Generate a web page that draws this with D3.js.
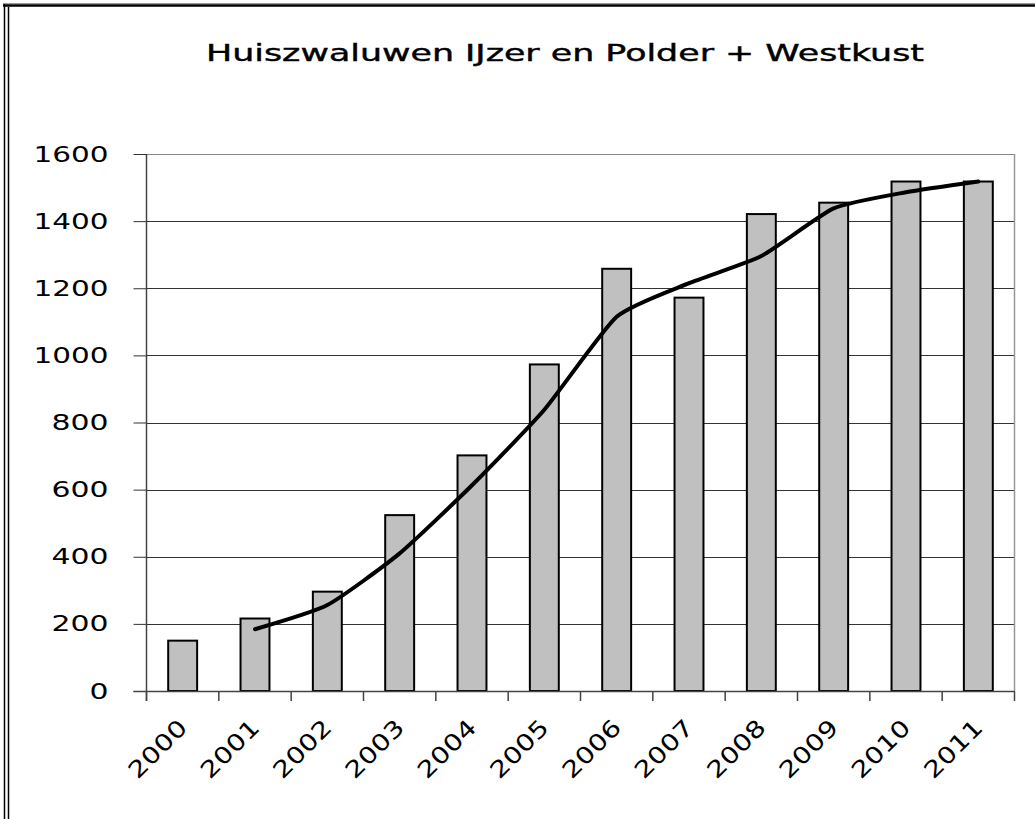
<!DOCTYPE html>
<html>
<head>
<meta charset="utf-8">
<script src="https://cdn.jsdelivr.net/npm/d3@7"></script>
<style>
  html, body { margin: 0; padding: 0; background: #fff; }
  svg { display: block; }
  text { font-family: "Comic Sans MS", "DejaVu Sans", sans-serif; fill: #000; }
</style>
</head>
<body>
<svg id="chart" width="1035" height="819"></svg>
<script>
const title = "Huiszwaluwen IJzer en Polder +  Westkust";
const years = ["2000","2001","2002","2003","2004","2005","2006","2007","2008","2009","2010","2011"];
const counts = [150, 216, 296, 524, 702, 973, 1258, 1172, 1421, 1455, 1518, 1518];
// trend line (2-year moving average as drawn in the reference), starts at 2001
const trendYears = ["2001","2002","2003","2004","2005","2006","2007","2008","2009","2010","2011"];
const trendValues = [184, 256, 410, 613, 838, 1115, 1215, 1296, 1438, 1486, 1518];
const yTicks = [0, 200, 400, 600, 800, 1000, 1200, 1400, 1600];

const svg = d3.select("#chart");
const mLeft = 146.5, mRight = 1014.5, mTop = 154, mBottom = 691;

// outer frame
svg.append("line").attr("x1", 3).attr("x2", 1035).attr("y1", 5.5).attr("y2", 5.5)
  .attr("stroke", "#000").attr("stroke-width", 2.5);
svg.append("line").attr("x1", 3).attr("x2", 1035).attr("y1", 3.5).attr("y2", 3.5)
  .attr("stroke", "#999").attr("stroke-width", 1);
svg.append("line").attr("x1", 4.5).attr("x2", 4.5).attr("y1", 4).attr("y2", 819)
  .attr("stroke", "#000").attr("stroke-width", 1.5);
svg.append("line").attr("x1", 8.5).attr("x2", 8.5).attr("y1", 7).attr("y2", 819)
  .attr("stroke", "#000").attr("stroke-width", 1.5);

// title
svg.append("text").attr("x", 565).attr("y", 61).attr("text-anchor", "middle")
  .attr("font-size", 23).attr("textLength", 718).attr("lengthAdjust", "spacingAndGlyphs")
  .attr("stroke", "#000").attr("stroke-width", 0.4)
  .text(title);

const x = d3.scaleBand().domain(years).range([mLeft, mRight]).paddingInner(0.6).paddingOuter(0.3);
const xBand = d3.scaleBand().domain(years).range([mLeft, mRight]);
const y = d3.scaleLinear().domain([0, 1600]).range([mBottom, mTop]);

// gridlines
svg.append("g").selectAll("line").data(yTicks.filter(d => d > 0)).join("line")
  .attr("x1", mLeft).attr("x2", mRight)
  .attr("y1", d => Math.round(y(d)) + 0.5).attr("y2", d => Math.round(y(d)) + 0.5)
  .attr("stroke", d => d === 1600 ? "#888" : "#333").attr("stroke-width", 1);

// right border of plot area
svg.append("line").attr("x1", mRight).attr("x2", mRight).attr("y1", mTop).attr("y2", mBottom)
  .attr("stroke", "#999").attr("stroke-width", 1.5);

// bars
svg.append("g").selectAll("rect").data(counts).join("rect")
  .attr("x", (d, i) => x(years[i]))
  .attr("width", x.bandwidth())
  .attr("y", d => y(d))
  .attr("height", d => mBottom - y(d))
  .attr("fill", "#c0c0c0").attr("stroke", "#000").attr("stroke-width", 2);

// y axis
const yAxis = d3.axisLeft(y).tickValues(yTicks).tickSize(13).tickPadding(25).tickFormat(d3.format("d"));
const gy = svg.append("g").attr("transform", `translate(${mLeft},0)`).call(yAxis);
gy.select(".domain").attr("stroke", "#444").attr("stroke-width", 1.5).attr("d", `M0,${mTop}V${mBottom + 10}`);
gy.selectAll(".tick line").attr("stroke", "#333");
gy.selectAll("text").attr("font-size", 22).attr("font-family", "'Comic Sans MS', 'DejaVu Sans', sans-serif")
  .attr("textLength", 75).attr("lengthAdjust", "spacingAndGlyphs");
gy.selectAll(".tick").filter(d => d === 0).select("text").attr("textLength", 19);
gy.selectAll(".tick").filter(d => d > 0 && d < 1000).select("text").attr("textLength", 57);

// x axis
const xTickPos = years.map(d => xBand(d)).concat([mRight]);
svg.append("line").attr("x1", mLeft - 13).attr("x2", mRight).attr("y1", mBottom + 0.5).attr("y2", mBottom + 0.5)
  .attr("stroke", "#444").attr("stroke-width", 1.5);
svg.append("g").selectAll("line").data(xTickPos).join("line")
  .attr("x1", d => d).attr("x2", d => d).attr("y1", mBottom).attr("y2", mBottom + 10)
  .attr("stroke", "#444").attr("stroke-width", 1.5);
svg.append("g").selectAll("text").data(years).join("text")
  .attr("text-anchor", "end")
  .attr("font-size", 23)
  .attr("textLength", 72).attr("lengthAdjust", "spacingAndGlyphs")
  .attr("transform", d => `translate(${xBand(d) + xBand.bandwidth() / 2 + 6},${mBottom + 38}) rotate(-45)`)
  .text(d => d);

// trend line
const line = d3.line()
  .x((d, i) => xBand(trendYears[i]) + xBand.bandwidth() / 2)
  .y(d => y(d))
  .curve(d3.curveCardinal.tension(0.45));
svg.append("path").datum(trendValues).attr("d", line)
  .attr("fill", "none").attr("stroke", "#000").attr("stroke-width", 4).attr("stroke-linecap", "round");
</script>
</body>
</html>
